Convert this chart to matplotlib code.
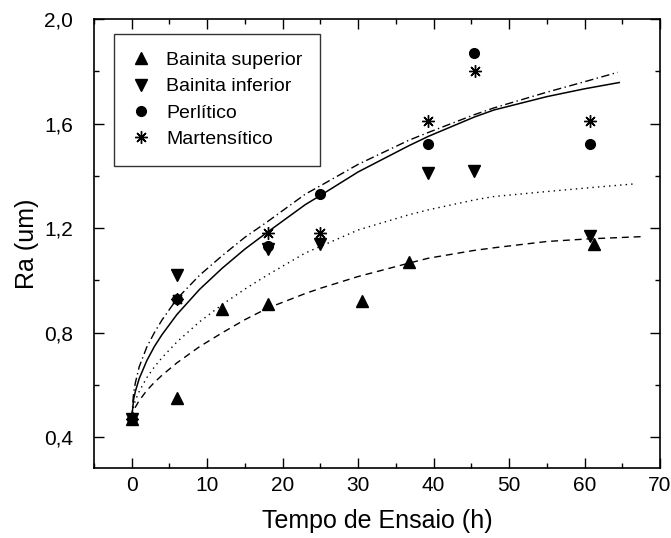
import matplotlib
matplotlib.use('Agg')
import matplotlib.pyplot as plt
from matplotlib.ticker import MultipleLocator, FuncFormatter

plt.rcParams['font.family'] = ['Liberation Sans', 'DejaVu Sans']

# measured points
x_bs = [0, 6, 12, 18, 30.5, 36.7, 61.2]
y_bs = [0.47, 0.55, 0.89, 0.91, 0.92, 1.07, 1.14]

x_bi = [0, 6, 18, 25, 39.3, 45.4, 60.7]
y_bi = [0.47, 1.02, 1.12, 1.14, 1.41, 1.42, 1.17]

x_pe = [0, 6, 18, 25, 39.3, 45.4, 60.7]
y_pe = [0.47, 0.93, 1.13, 1.33, 1.52, 1.87, 1.52]

x_ma = [0, 6, 18, 25, 39.3, 45.5, 60.7]
y_ma = [0.47, 0.93, 1.18, 1.18, 1.61, 1.80, 1.61]

# fitted curves
fx_pe = [0, 0.25, 0.5, 1, 2, 3, 4, 6, 9, 12, 15, 18, 23, 25, 30, 36.7, 39.3,
         45.4, 48, 55, 60, 64.6]
fy_pe = [0.47, 0.544, 0.577, 0.625, 0.693, 0.747, 0.792, 0.87, 0.966, 1.047, 1.12,
         1.185, 1.29, 1.325, 1.415, 1.515, 1.551, 1.625, 1.652, 1.703, 1.733, 1.757]

fx_ma = [0, 0.25, 0.5, 1, 2, 3, 4, 6, 9, 12, 15, 18, 23, 25, 30, 36.7, 39.3,
         45.4, 48, 55, 60, 64.4]
fy_ma = [0.47, 0.57, 0.61, 0.67, 0.745, 0.80, 0.848, 0.93, 1.02, 1.095, 1.165,
         1.225, 1.33, 1.362, 1.444, 1.536, 1.566, 1.634, 1.66, 1.72, 1.76, 1.796]

fx_bi = [0, 0.25, 0.5, 1, 2, 3, 4, 6, 9, 12, 15, 18, 23, 25, 30, 36.7, 39.3,
         45.4, 48, 55, 60, 66.9]
fy_bi = [0.47, 0.518, 0.542, 0.576, 0.628, 0.669, 0.704, 0.765, 0.842, 0.908, 0.967,
         1.021, 1.105, 1.13, 1.193, 1.251, 1.27, 1.308, 1.321, 1.34, 1.353, 1.37]

fx_bs = [0, 0.25, 0.5, 1, 2, 3, 4, 6, 9, 12, 15, 18, 23, 25, 30, 36.7, 39.3,
         45.4, 48, 55, 60.5, 67.9]
fy_bs = [0.47, 0.50, 0.516, 0.541, 0.579, 0.61, 0.637, 0.685, 0.747, 0.80, 0.85,
         0.894, 0.95, 0.97, 1.015, 1.066, 1.085, 1.115, 1.125, 1.149, 1.159, 1.168]

fig = plt.figure(figsize=(6.71, 5.38), dpi=100)
ax = fig.add_axes([0.140, 0.130, 0.8436, 0.8347])

# curves
ax.plot(fx_pe, fy_pe, color='black', lw=1.1, ls='-')
ax.plot(fx_ma, fy_ma, color='black', lw=1.0, ls=(0, (6, 2.5, 1, 2.5)))
ax.plot(fx_bi, fy_bi, color='black', lw=1.0, ls=(0, (1, 3)))
ax.plot(fx_bs, fy_bs, color='black', lw=1.0, ls=(0, (5, 3.5)))

# points
ax.plot(x_bs, y_bs, ls='none', marker='^', ms=8, color='black', label='Bainita superior')
ax.plot(x_bi, y_bi, ls='none', marker='v', ms=8, color='black', label='Bainita inferior')
ax.plot(x_pe, y_pe, ls='none', marker='o', ms=7, color='black', label='Perlítico')
ax.plot(x_ma, y_ma, ls='none', marker=(8, 2, 0), ms=9, mew=1.0, color='black',
        label='Martensítico')

ax.set_xlim(-5, 70)
ax.set_ylim(0.2825, 2.0)
ax.xaxis.set_major_locator(MultipleLocator(10))
ax.xaxis.set_minor_locator(MultipleLocator(5))
ax.yaxis.set_major_locator(MultipleLocator(0.4))
ax.yaxis.set_minor_locator(MultipleLocator(0.2))
ax.yaxis.set_major_formatter(FuncFormatter(lambda v, p: f"{v:.1f}".replace('.', ',')))

ax.tick_params(which='both', direction='in', top=True, right=True, width=1.0)
ax.tick_params(which='major', length=7)
ax.tick_params(which='minor', length=3.5)
ax.tick_params(axis='x', labelsize=15, pad=6)
ax.tick_params(axis='y', labelsize=15, pad=15)
for s in ax.spines.values():
    s.set_linewidth(1.2)

ax.set_xlabel('Tempo de Ensaio (h)', fontsize=18, labelpad=10)
ax.set_ylabel('Ra (um)', fontsize=18, labelpad=4)

leg = ax.legend(loc='upper left', bbox_to_anchor=(0.0353, 0.9666), borderaxespad=0,
                fontsize=14, handlelength=1.0, handletextpad=0.8, borderpad=0.9,
                labelspacing=0.45, fancybox=False, edgecolor='black')
leg.get_frame().set_linewidth(1.0)

fig.savefig('out.png', dpi=100)
